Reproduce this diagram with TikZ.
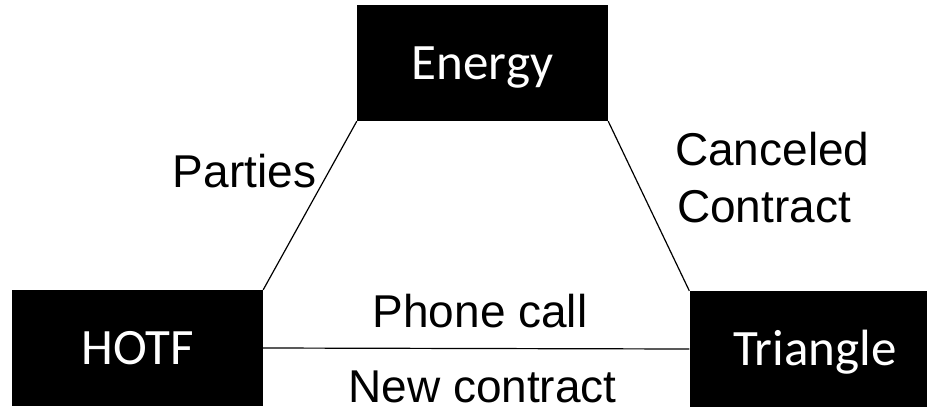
\documentclass[tikz,border=0pt]{standalone}
\usepackage{fontspec}
\setmainfont{Liberation Sans}
\newfontfamily\boxfont{Carlito}
\begin{document}
\begin{tikzpicture}[x=1pt,y=-1pt,
  entity/.style={rectangle, fill=black, text=white, inner sep=0pt,
    minimum width=251pt, minimum height=116pt,
    font={\boxfont\fontsize{51}{60}\selectfont}, text height=33pt, text depth=0pt},
  lbl/.style={font={\fontsize{46}{55}\selectfont}, inner sep=0pt, anchor=base},
  link/.style={draw=black, line width=1.2pt}]
\useasboundingbox (0,0) rectangle (927,410);
\clip (0,0) rectangle (927,410);
\node[entity] (energy) at (482.5,63) {Energy};
\node[entity] (hotf) at (137.5,348) {HOTF};
\node[entity] (tri) at (815,349) {Triangle};
\draw[link] (energy.south west) -- (hotf.north east);
\draw[link] (energy.south east) -- (tri.north west);
\draw[link] (hotf.east) -- (tri.west);
\node[lbl] (parties) at (244.5,187) {Parties};
\node[lbl, anchor=base west] (canceled) at (675,165) {Canceled};
\node[lbl, anchor=base west] (contract) at (677,222) {Contract};
\node[lbl] (phone) at (480,327) {Phone call};
\node[lbl] (newc) at (482.5,402) {New contract};
\end{tikzpicture}
\end{document}
